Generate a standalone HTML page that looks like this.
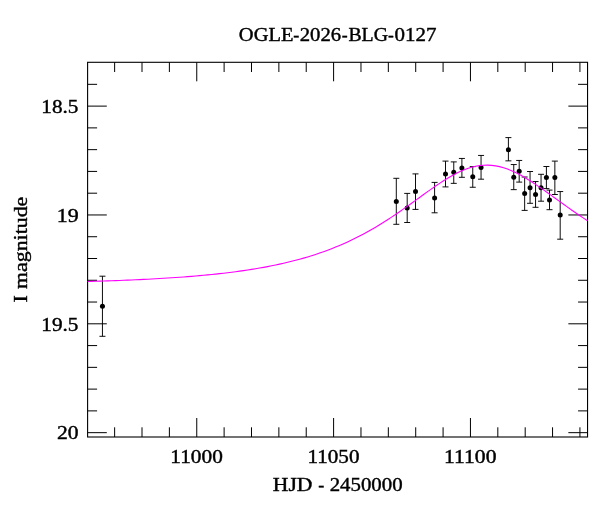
<!DOCTYPE html>
<html lang="en">
<head>
<meta charset="utf-8">
<title>OGLE-2026-BLG-0127</title>
<style>
html,body{margin:0;padding:0;background:#fff}
body{width:600px;height:512px;overflow:hidden}
svg{display:block}
text{font-family:"Liberation Serif", serif;fill:#000;stroke:#000;stroke-width:0.4px}
</style>
</head>
<body>
<svg width="600" height="512" viewBox="0 0 600 512">
<rect x="0" y="0" width="600" height="512" fill="#fff"/>
<g fill="none" stroke="#000" stroke-width="1.1">
<rect x="87.6" y="62.3" width="499.95" height="374.7"/>
<path stroke-width="1" d="M114.64 62.3 v9.7 M114.64 437 v-9.7 M142.01 62.3 v9.7 M142.01 437 v-9.7 M169.38 62.3 v9.7 M169.38 437 v-9.7 M196.75 62.3 v19 M196.75 437 v-19 M224.12 62.3 v9.7 M224.12 437 v-9.7 M251.49 62.3 v9.7 M251.49 437 v-9.7 M278.86 62.3 v9.7 M278.86 437 v-9.7 M306.23 62.3 v9.7 M306.23 437 v-9.7 M333.6 62.3 v19 M333.6 437 v-19 M360.97 62.3 v9.7 M360.97 437 v-9.7 M388.34 62.3 v9.7 M388.34 437 v-9.7 M415.71 62.3 v9.7 M415.71 437 v-9.7 M443.08 62.3 v9.7 M443.08 437 v-9.7 M470.45 62.3 v19 M470.45 437 v-19 M497.82 62.3 v9.7 M497.82 437 v-9.7 M525.19 62.3 v9.7 M525.19 437 v-9.7 M552.56 62.3 v9.7 M552.56 437 v-9.7 M579.93 62.3 v9.7 M579.93 437 v-9.7 M87.6 84.34 h9.5 M587.55 84.34 h-9.5 M87.6 106.11 h19.2 M587.55 106.11 h-19.2 M87.6 127.88 h9.5 M587.55 127.88 h-9.5 M87.6 149.65 h9.5 M587.55 149.65 h-9.5 M87.6 171.42 h9.5 M587.55 171.42 h-9.5 M87.6 193.19 h9.5 M587.55 193.19 h-9.5 M87.6 214.96 h19.2 M587.55 214.96 h-19.2 M87.6 236.73 h9.5 M587.55 236.73 h-9.5 M87.6 258.5 h9.5 M587.55 258.5 h-9.5 M87.6 280.27 h9.5 M587.55 280.27 h-9.5 M87.6 302.04 h9.5 M587.55 302.04 h-9.5 M87.6 323.81 h19.2 M587.55 323.81 h-19.2 M87.6 345.58 h9.5 M587.55 345.58 h-9.5 M87.6 367.35 h9.5 M587.55 367.35 h-9.5 M87.6 389.12 h9.5 M587.55 389.12 h-9.5 M87.6 410.89 h9.5 M587.55 410.89 h-9.5 M87.6 432.66 h19.2 M587.55 432.66 h-19.2"/>
</g>
<path fill="none" stroke="#000" stroke-width="0.95" d="M102.45 276.2 V336.3 M99.45 276.2 h6 M99.45 336.3 h6 M396.3 178.3 V224.3 M393.3 178.3 h6 M393.3 224.3 h6 M407.2 193.4 V222.5 M404.2 193.4 h6 M404.2 222.5 h6 M415.5 173.9 V209.4 M412.5 173.9 h6 M412.5 209.4 h6 M434.6 182.4 V212.8 M431.6 182.4 h6 M431.6 212.8 h6 M445.5 161.1 V186.9 M442.5 161.1 h6 M442.5 186.9 h6 M453.75 161.9 V183.35 M450.75 161.9 h6 M450.75 183.35 h6 M461.9 158.45 V177.3 M458.9 158.45 h6 M458.9 177.3 h6 M472.75 166.6 V187.25 M469.75 166.6 h6 M469.75 187.25 h6 M481.05 155.45 V179.2 M478.05 155.45 h6 M478.05 179.2 h6 M508.4 137.6 V160.85 M505.4 137.6 h6 M505.4 160.85 h6 M513.75 164.55 V189.65 M510.75 164.55 h6 M510.75 189.65 h6 M519.2 160.45 V182.1 M516.2 160.45 h6 M516.2 182.1 h6 M524.65 177 V210.4 M521.65 177 h6 M521.65 210.4 h6 M530.05 171.5 V203.3 M527.05 171.5 h6 M527.05 203.3 h6 M535.55 181.55 V207.3 M532.55 181.55 h6 M532.55 207.3 h6 M541.05 174.3 V201.2 M538.05 174.3 h6 M538.05 201.2 h6 M546.4 166.5 V188.6 M543.4 166.5 h6 M543.4 188.6 h6 M549.5 190.1 V209.7 M546.5 190.1 h6 M546.5 209.7 h6 M554.85 161.1 V194.5 M551.85 161.1 h6 M551.85 194.5 h6 M560.2 191.55 V239.2 M557.2 191.55 h6 M557.2 239.2 h6"/>
<g fill="#000">
<circle cx="102.45" cy="306.2" r="2.5"/>
<circle cx="396.3" cy="201.5" r="2.5"/>
<circle cx="407.2" cy="208.1" r="2.5"/>
<circle cx="415.5" cy="191.6" r="2.5"/>
<circle cx="434.6" cy="197.9" r="2.5"/>
<circle cx="445.5" cy="174" r="2.5"/>
<circle cx="453.75" cy="172.2" r="2.5"/>
<circle cx="461.9" cy="168" r="2.5"/>
<circle cx="472.75" cy="176.85" r="2.5"/>
<circle cx="481.05" cy="167.6" r="2.5"/>
<circle cx="508.4" cy="149.8" r="2.5"/>
<circle cx="513.75" cy="177.35" r="2.5"/>
<circle cx="519.2" cy="171.35" r="2.5"/>
<circle cx="524.65" cy="193.6" r="2.5"/>
<circle cx="530.05" cy="187.75" r="2.5"/>
<circle cx="535.55" cy="194.4" r="2.5"/>
<circle cx="541.05" cy="187.7" r="2.5"/>
<circle cx="546.4" cy="177.55" r="2.5"/>
<circle cx="549.5" cy="199.9" r="2.5"/>
<circle cx="554.85" cy="177.6" r="2.5"/>
<circle cx="560.2" cy="215.1" r="2.5"/>
</g>
<path fill="none" stroke="#ff00ff" stroke-width="1.1" stroke-linejoin="round" d="M87.6 281.5 L91.6 281.39 L95.6 281.27 L99.6 281.15 L103.6 281.02 L107.6 280.88 L111.6 280.74 L115.6 280.6 L119.6 280.44 L123.6 280.29 L127.6 280.12 L131.6 279.95 L135.6 279.77 L139.59 279.59 L143.59 279.4 L147.59 279.2 L151.59 278.99 L155.59 278.77 L159.59 278.54 L163.59 278.3 L167.59 278.06 L171.59 277.8 L175.59 277.53 L179.59 277.25 L183.59 276.96 L187.59 276.65 L191.59 276.33 L195.59 276 L199.59 275.65 L203.59 275.28 L207.59 274.9 L211.59 274.51 L215.59 274.09 L219.59 273.66 L223.59 273.2 L227.59 272.73 L231.59 272.23 L235.59 271.71 L239.58 271.17 L243.58 270.6 L247.58 270 L251.58 269.38 L255.58 268.73 L259.58 268.05 L263.58 267.34 L267.58 266.59 L271.58 265.81 L275.58 264.99 L279.58 264.14 L283.58 263.24 L287.58 262.3 L291.58 261.32 L295.58 260.3 L299.58 259.22 L303.58 258.1 L307.58 256.93 L311.58 255.7 L315.58 254.41 L319.58 253.07 L323.58 251.67 L327.58 250.21 L331.58 248.68 L335.58 247.09 L339.57 245.43 L343.57 243.7 L347.57 241.9 L351.57 240.02 L355.57 238.07 L359.57 236.04 L363.57 233.94 L367.57 231.76 L371.57 229.51 L375.57 227.18 L379.57 224.77 L383.57 222.29 L387.57 219.74 L391.57 217.12 L395.57 214.44 L399.57 211.7 L403.57 208.91 L407.57 206.08 L411.57 203.22 L415.57 200.33 L419.57 197.43 L423.57 194.54 L427.57 191.67 L431.57 188.84 L435.57 186.06 L439.56 183.36 L443.56 180.76 L447.56 178.28 L451.56 175.95 L455.56 173.79 L459.56 171.82 L463.56 170.07 L467.56 168.56 L471.56 167.3 L475.56 166.32 L479.56 165.63 L483.56 165.23 L487.56 165.13 L491.56 165.34 L495.56 165.85 L499.56 166.65 L503.56 167.74 L507.56 169.09 L511.56 170.69 L515.56 172.53 L519.56 174.57 L523.56 176.79 L527.56 179.18 L531.56 181.71 L535.56 184.35 L539.55 187.08 L543.55 189.88 L547.55 192.73 L551.55 195.61 L555.55 198.5 L559.55 201.4 L563.55 204.28 L567.55 207.13 L571.55 209.95 L575.55 212.72 L579.55 215.44 L583.55 218.1 L587.55 220.69"/>
<text y="41.2" font-size="19"><tspan x="238.86" textLength="54.56" lengthAdjust="spacingAndGlyphs">OGLE</tspan><tspan x="293.33" textLength="6.03" lengthAdjust="spacingAndGlyphs">-</tspan><tspan x="299.69" textLength="41.43" lengthAdjust="spacingAndGlyphs">2026</tspan><tspan x="341.84" textLength="5.9" lengthAdjust="spacingAndGlyphs">-</tspan><tspan x="348.43" textLength="39.49" lengthAdjust="spacingAndGlyphs">BLG</tspan><tspan x="387.96" textLength="5.77" lengthAdjust="spacingAndGlyphs">-</tspan><tspan x="394.5" textLength="41.9" lengthAdjust="spacingAndGlyphs">0127</tspan></text>
<text y="462.5" font-size="19"><tspan x="170.36" textLength="52.44" lengthAdjust="spacingAndGlyphs">11000</tspan></text>
<text y="462.5" font-size="19"><tspan x="307.47" textLength="52.02" lengthAdjust="spacingAndGlyphs">11050</tspan></text>
<text y="462.5" font-size="19"><tspan x="444.06" textLength="52.44" lengthAdjust="spacingAndGlyphs">11100</tspan></text>
<text y="112.81" font-size="19"><tspan x="41.34" textLength="37.09" lengthAdjust="spacingAndGlyphs">18.5</tspan></text>
<text y="221.66" font-size="19"><tspan x="56.77" textLength="21.93" lengthAdjust="spacingAndGlyphs">19</tspan></text>
<text y="330.51" font-size="19"><tspan x="41.34" textLength="37.09" lengthAdjust="spacingAndGlyphs">19.5</tspan></text>
<text y="439.36" font-size="19"><tspan x="57.05" textLength="21.57" lengthAdjust="spacingAndGlyphs">20</tspan></text>
<text y="491.3" font-size="19"><tspan x="272.88" textLength="39.59" lengthAdjust="spacingAndGlyphs">HJD</tspan> <tspan x="318.33" textLength="6.03" lengthAdjust="spacingAndGlyphs">-</tspan> <tspan x="329.68" textLength="72.91" lengthAdjust="spacingAndGlyphs">2450000</tspan></text>
<text transform="translate(27.0 301.9) rotate(-90)" y="0" font-size="19"><tspan x="-0.59" textLength="7.25" lengthAdjust="spacingAndGlyphs">I</tspan> <tspan x="12.94" textLength="92.22" lengthAdjust="spacingAndGlyphs">magnitude</tspan></text>
</svg>
</body>
</html>
